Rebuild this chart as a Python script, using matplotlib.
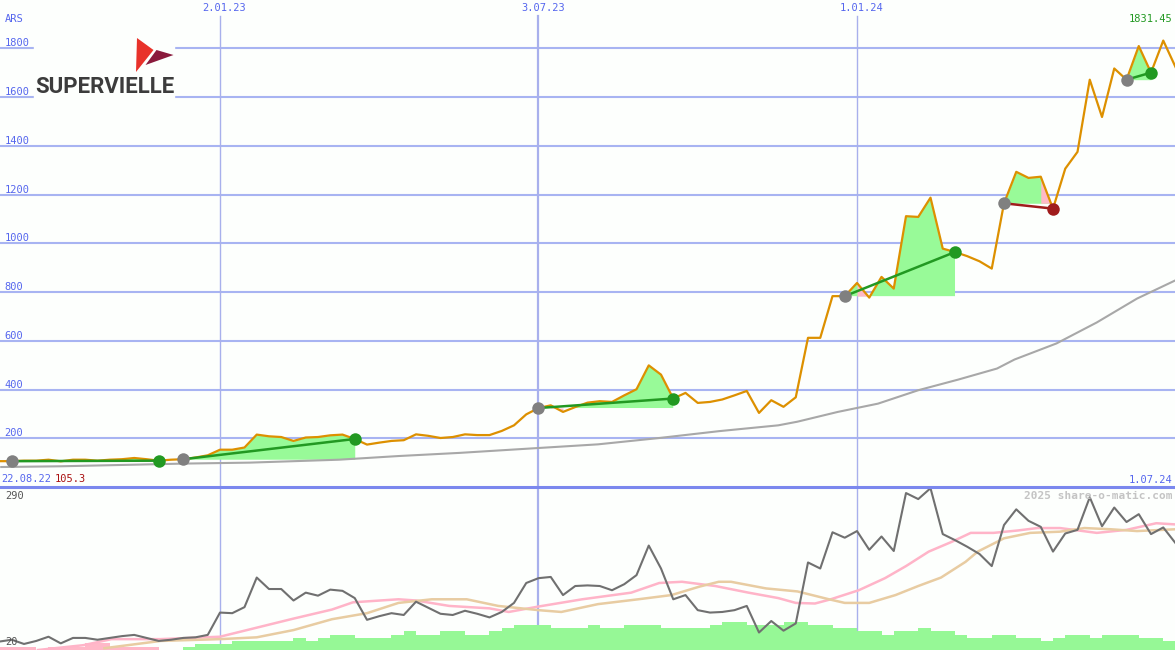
import numpy as np
import pandas as pd
import matplotlib
matplotlib.use("Agg")
import matplotlib.pyplot as plt
from matplotlib.patches import Rectangle, Polygon
from matplotlib.lines import Line2D


# weekly closes (ARS), Mondays starting 29.08.22
WEEK_START = "2022-08-29"
price = [
    106, 106, 108, 108, 112, 105.3, 112, 112, 108, 112, 114,
    119, 114, 108, 112, 114, 121, 130, 153, 153, 162,
    215, 208, 205, 189, 203, 205, 212, 215, 197, 174,
    182, 189, 192, 216, 210, 201, 205, 216, 213, 213,
    230, 253, 298, 324, 335, 308, 328, 346, 352, 349,
    376, 401, 499, 461, 363, 386, 345, 349, 359, 376,
    394, 304, 356, 329, 368, 612, 612, 783, 783, 837,
    777, 862, 814, 1111, 1108, 1187, 978, 964, 947, 926,
    896, 1164, 1293, 1268, 1273, 1142, 1306, 1375, 1671, 1518,
    1717, 1671, 1809, 1700, 1831.45, 1723,
]

# lower panel oscillator (weekly)
osc = [
    34, 37, 30, 35, 42, 31, 40, 40, 37, 40, 43,
    45, 40, 35, 37, 40, 41, 45, 82, 81, 91,
    140, 121, 121, 102, 115, 110, 120, 118, 106, 70,
    76, 81, 78, 100, 90, 80, 78, 85, 80, 74,
    83, 98, 131, 139, 141, 111, 126, 127, 126, 119,
    129, 144, 193, 155, 104, 111, 86, 82, 83, 86,
    93, 49, 68, 52, 64, 165, 155, 215, 206, 217,
    186, 208, 184, 280, 270, 288, 212, 202, 191, 179,
    159, 227, 253, 234, 224, 183, 213, 219, 273, 225,
    256, 232, 245, 212, 223, 197,
]

# weekly volume bars (up weeks green, first weeks pink)
vol_up = [
    0, 0, 0, 0, 0, 0, 0, 0, 0, 0, 0, 0, 0, 0, 0,
    3, 6, 6, 6, 9, 9, 9, 9, 9, 12,
    9, 12, 15, 15, 12, 12, 12, 15, 19, 15,
    15, 19, 19, 15, 15, 19, 22, 25, 25, 25,
    22, 22, 22, 25, 22, 22, 25, 25, 25, 22,
    22, 22, 22, 25, 28, 28, 25, 25, 25, 28,
    28, 25, 25, 22, 22, 19, 19, 15, 19, 19,
    22, 19, 19, 15, 12, 12, 15, 15, 12, 12,
    9, 12, 15, 15, 12, 15, 15, 15, 12, 12,
    9, 0,
]
vol_down = [3, 3, 3, 0, 3, 3, 3, 7, 7, 3, 3, 3, 3]

# long moving average of price
ma_dates = ["2022-08-30", "2022-10-03", "2022-11-17", "2022-12-12", "2023-01-19",
            "2023-03-11", "2023-04-14", "2023-05-19", "2023-07-03", "2023-08-06",
            "2023-09-10", "2023-10-14", "2023-11-17", "2023-11-28", "2023-12-21",
            "2024-01-13", "2024-02-05", "2024-02-28", "2024-03-21", "2024-03-31",
            "2024-04-24", "2024-05-17", "2024-06-09", "2024-07-01"]
ma_vals = [82, 85, 92, 96, 100, 112, 127, 140, 160, 175, 201, 229, 253, 268, 308,
           342, 397, 441, 486, 523, 589, 675, 773, 848]

# oscillator averages
pink_dates = ["2022-09-20", "2022-10-16", "2022-11-01", "2022-11-29", "2023-01-02",
              "2023-01-23", "2023-02-13", "2023-03-07", "2023-03-19", "2023-04-14",
              "2023-04-24", "2023-05-13", "2023-06-05", "2023-06-16", "2023-07-03",
              "2023-07-28", "2023-08-25", "2023-09-10", "2023-09-23", "2023-10-12",
              "2023-10-31", "2023-11-17", "2023-11-27", "2023-12-08", "2023-12-17",
              "2024-01-02", "2024-01-17", "2024-01-29", "2024-02-11", "2024-02-24",
              "2024-03-06", "2024-03-19", "2024-04-02", "2024-04-13", "2024-04-26",
              "2024-05-17", "2024-06-03", "2024-06-20", "2024-07-01"]
pink_vals = [20, 28, 38, 38, 42, 57, 72, 87, 99, 104, 102, 93, 89, 83, 92, 104, 115,
             131, 133, 126, 115, 106, 98, 97, 104, 119, 139, 159, 183, 199, 214, 214,
             218, 222, 222, 214, 219, 230, 228]
tan_dates = ["2022-10-28", "2022-11-29", "2023-01-02", "2023-01-23", "2023-02-13",
             "2023-03-07", "2023-03-27", "2023-04-14", "2023-05-03", "2023-05-23",
             "2023-06-10", "2023-07-03", "2023-07-16", "2023-08-06", "2023-08-29",
             "2023-09-17", "2023-10-03", "2023-10-14", "2023-10-21", "2023-11-10",
             "2023-11-28", "2023-12-16", "2023-12-25", "2024-01-08", "2024-01-23",
             "2024-02-05", "2024-02-18", "2024-03-03", "2024-03-10", "2024-03-25",
             "2024-04-09", "2024-04-26", "2024-05-10", "2024-05-25", "2024-06-09",
             "2024-07-01"]
tan_vals = [23, 35, 38, 41, 53, 71, 81, 98, 104, 104, 93, 86, 83, 96, 104, 111, 125,
            133, 133, 122, 117, 104, 98, 98, 111, 126, 140, 166, 183, 205, 214, 216,
            222, 220, 217, 220]

# signals: entry / exit weeks
trade_in = ["2022-09-05", "2022-12-12", "2023-07-03", "2023-12-25", "2024-03-25", "2024-06-03"]
trade_out = ["2022-11-28", "2023-03-20", "2023-09-18", "2024-02-26", "2024-04-22", "2024-06-17"]

y_ticks = [200, 400, 600, 800, 1000, 1200, 1400, 1600, 1800]
x_marks = ["2023-01-02", "2023-07-03", "2024-01-01"]
x_mark_labels = ["2.01.23", "3.07.23", "1.01.24"]

BG = "#fdfffd"
BLUE_TXT = "#5566ee"
GRID = "#a8b4f2"
MONO = "DejaVu Sans Mono"
W, H = 1175.0, 650.0


def fx(x):
    return x / W


def fy(y):
    return 1 - y / H


weeks = pd.date_range(WEEK_START, periods=len(price), freq="7D")
s = pd.Series(price, index=weeks)
xlim = (pd.Timestamp("2022-08-29 07:00"), pd.Timestamp("2024-06-30 17:00"))

fig = plt.figure(figsize=(11.75, 6.5), dpi=100)
fig.patch.set_facecolor(BG)

ax = fig.add_axes([0, fy(487), 1, 487 / H])
axl = fig.add_axes([0, 0, 1, fy(487)])
axo = axl.twinx()
for a in (ax, axl, axo):
    a.axis("off")
    a.set_xlim(*xlim)
ax.set_ylim(0, 487 / 0.24375)
axl.set_ylim(0, 163)
axo.set_ylim(20, 290)

# grid
for t in y_ticks:
    ax.axhline(t, color=GRID, lw=1.5, zorder=0)
    ax.text(0.004, t + 20, str(t), transform=ax.get_yaxis_transform(),
            color=BLUE_TXT, fontsize=7.5, family=MONO, va="center")
for d, lab, lw in zip(x_marks, x_mark_labels, [1.0, 1.6, 1.0]):
    d = pd.Timestamp(d)
    ax.axvline(d, ymax=0.967, color="#a8b0ec", lw=lw, zorder=0)
    axl.axvline(d, color="#a8b0ec", lw=lw, zorder=0)
    ax.text(d + pd.Timedelta(days=2.5), 1 - 8 / 487, lab, transform=ax.get_xaxis_transform(),
            color=BLUE_TXT, fontsize=7.5, family=MONO, ha="center", va="center")

# price panel
ax.plot(pd.to_datetime(ma_dates), ma_vals, color="#a8a8a8", lw=1.5, zorder=2)
ax.plot(weeks, price, color="#dd9000", lw=1.6, zorder=3)

for d_in, d_out in zip(trade_in, trade_out):
    t_in, t_out = pd.Timestamp(d_in), pd.Timestamp(d_out)
    seg = s[t_in:t_out]
    p_in, p_out = s[t_in], s[t_out]
    v = seg.values
    ax.fill_between(seg.index, v, p_in, where=v >= p_in, interpolate=True,
                    color="#98fa98", lw=0, zorder=1)
    for j in range(len(seg) - 1):
        if v[j + 1] < p_in:
            ax.fill_between(seg.index[j:j + 2], v[j:j + 2], p_in,
                            color="#ffb8c6", lw=0, zorder=1.5)
    c = "#229922" if p_out >= p_in else "#a01c1c"
    ax.plot([t_in, t_out], [p_in, p_out], color=c, lw=1.8, zorder=4)
    ax.plot(t_in, p_in, "o", color="#808080", ms=9, mew=0, zorder=5)
    ax.plot(t_out, p_out, "o", color=c, ms=9, mew=0, zorder=5)

# lower panel
axl.bar(weeks, vol_up, width=7, align="edge", color="#96f896", lw=0, zorder=1)
axl.bar(weeks[:len(vol_down)], vol_down, width=7, align="edge", color="#ffb8c8", lw=0, zorder=1)
axo.plot(pd.to_datetime(pink_dates), pink_vals, color="#ffb4c8", lw=1.8)
axo.plot(pd.to_datetime(tan_dates), tan_vals, color="#e8cca2", lw=1.8)
axo.plot(weeks, osc, color="#707070", lw=1.5)

# panel separator
fig.add_artist(Line2D([0, 1], [fy(487), fy(487)], transform=fig.transFigure,
                      color="#7b88ee", lw=2.2, zorder=2))

# texts
fig.text(fx(5), fy(19), "ARS", color=BLUE_TXT, fontsize=7.5, family=MONO, va="center")
fig.text(fx(1172), fy(19), f"{max(price):.2f}", color="#229922", fontsize=7.5,
         family=MONO, ha="right", va="center")
fig.text(fx(1), fy(479), "22.08.22", color=BLUE_TXT, fontsize=7.5, family=MONO, va="center")
fig.text(fx(55), fy(479), f"{min(price):g}", color="#aa1111", fontsize=7.5,
         family=MONO, va="center")
fig.text(fx(1172), fy(480), "1.07.24", color=BLUE_TXT, fontsize=7.5, family=MONO,
         ha="right", va="center")
fig.text(fx(1172), fy(496), "2025 share-o-matic.com", color="#c4c4c4", fontsize=8,
         family=MONO, fontweight="bold", ha="right", va="center")
fig.text(fx(5), fy(496), "290", color="#555555", fontsize=7.5, family=MONO, va="center")
fig.text(fx(5), fy(642), "20", color="#555555", fontsize=7.5, family=MONO, va="center")

# logo
fig.patches.append(Rectangle((fx(34), fy(101)), fx(174) - fx(34), fy(32) - fy(101),
                             transform=fig.transFigure, color=BG, zorder=3))
fig.patches.append(Polygon([(fx(137), fy(38)), (fx(153.5), fy(50)), (fx(136), fy(72))],
                           closed=True, transform=fig.transFigure, color="#e8322a", lw=0, zorder=4))
fig.patches.append(Polygon([(fx(156.5), fy(50)), (fx(173.5), fy(55)), (fx(145.5), fy(65))],
                           closed=True, transform=fig.transFigure, color="#8a1a3c", lw=0, zorder=4))
fig.text(fx(35), fy(93), "SUPERVIELLE", color="#3c3c3c", fontsize=16,
         family=["Roboto", "DejaVu Sans"], fontweight="bold",
         va="baseline", zorder=5)

fig.savefig("out.png", dpi=100, facecolor=BG)
plt.close(fig)
